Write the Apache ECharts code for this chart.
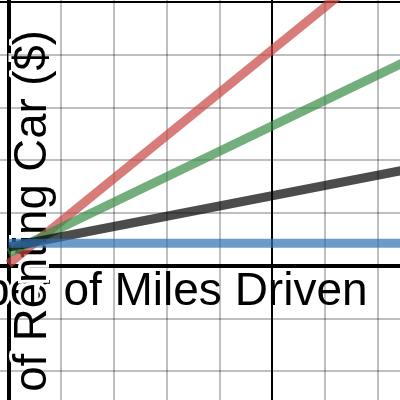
<!DOCTYPE html>
<html>
<head>
<meta charset="utf-8">
<script src="https://cdn.jsdelivr.net/npm/echarts@6/dist/echarts.min.js"></script>
<style>
  html, body { margin: 0; padding: 0; background: #fff; }
  #chart { width: 400px; height: 400px; }
</style>
</head>
<body>
<div id="chart"></div>
<script>
// end points of each straight line (grid step = 10)
const milesPts = [0, 80];
const blueCost = [4.25, 4.25];
const blackCost = [3.55, 19.1];
const greenCost = [2.4, 41.0];
const redCost = [0.3, 65.3];

// grid lines (light) and the darker major line every 5 steps
const xGridTicks = [10, 20, 30, 40, 60, 70];
const yGridTicks = [-20, -10, 10, 20, 30, 40];
const xMajorTicks = [50];
const yMajorTicks = [50];

const xLabel = "Number of Miles Driven";
const yLabel = "Cost of Renting Car ($)";

function pts(ys) {
  return milesPts.map((m, i) => [m, ys[i]]);
}

let chart = echarts.init(document.getElementById("chart"));

function lineSeries(name, ys, color) {
  return {
    name: name,
    type: "line",
    data: pts(ys),
    showSymbol: false,
    symbol: "none",
    silent: true,
    z: 5,
    lineStyle: { color: color, width: 9, opacity: 0.7 }
  };
}

function gridSeries(xs, ys, color, width, z) {
  return {
    type: "line",
    data: [],
    z: z,
    silent: true,
    markLine: {
      silent: true,
      symbol: "none",
      animation: false,
      label: { show: false },
      lineStyle: { color: color, width: width, type: "solid" },
      data: xs.map(v => ({ xAxis: v })).concat(ys.map(v => ({ yAxis: v })))
    }
  };
}

let option = {
  animation: false,
  grid: { left: 0, right: 0, top: 0, bottom: 0 },
  xAxis: {
    type: "value",
    min: -1.611,
    max: 74.218,
    axisLine: { onZero: true, lineStyle: { color: "#000", width: 4 } },
    axisTick: { show: false },
    axisLabel: { show: false },
    splitLine: { show: false }
  },
  yAxis: {
    type: "value",
    min: -25.46,
    max: 50.37,
    axisLine: { show: true, onZero: true, lineStyle: { color: "#000", width: 4 } },
    axisTick: { show: false },
    axisLabel: { show: false },
    splitLine: { show: false }
  },
  graphic: [
    {
      type: "text",
      z: 3,
      left: -116,
      top: 266,
      style: {
        text: xLabel,
        font: "46px 'Liberation Sans', Arial, sans-serif",
        fill: "#000",
        stroke: "#fff",
        lineWidth: 6
      }
    },
    {
      type: "text",
      z: 3,
      x: 33,
      y: 264,
      rotation: Math.PI / 2,
      style: {
        text: yLabel,
        font: "45.5px 'Liberation Sans', Arial, sans-serif",
        fill: "#000",
        stroke: "#fff",
        lineWidth: 6,
        align: "center",
        verticalAlign: "middle"
      }
    }
  ],
  series: [
    gridSeries(xGridTicks, yGridTicks, "rgba(0,0,0,0.25)", 2, 0),
    gridSeries(xMajorTicks, yMajorTicks, "#000", 2, 1),
    lineSeries("red", redCost, "#c74440"),
    lineSeries("green", greenCost, "#388c46"),
    lineSeries("black", blackCost, "#000000"),
    lineSeries("blue", blueCost, "#2d70b3")
  ]
};

chart.setOption(option);
</script>
</body>
</html>
